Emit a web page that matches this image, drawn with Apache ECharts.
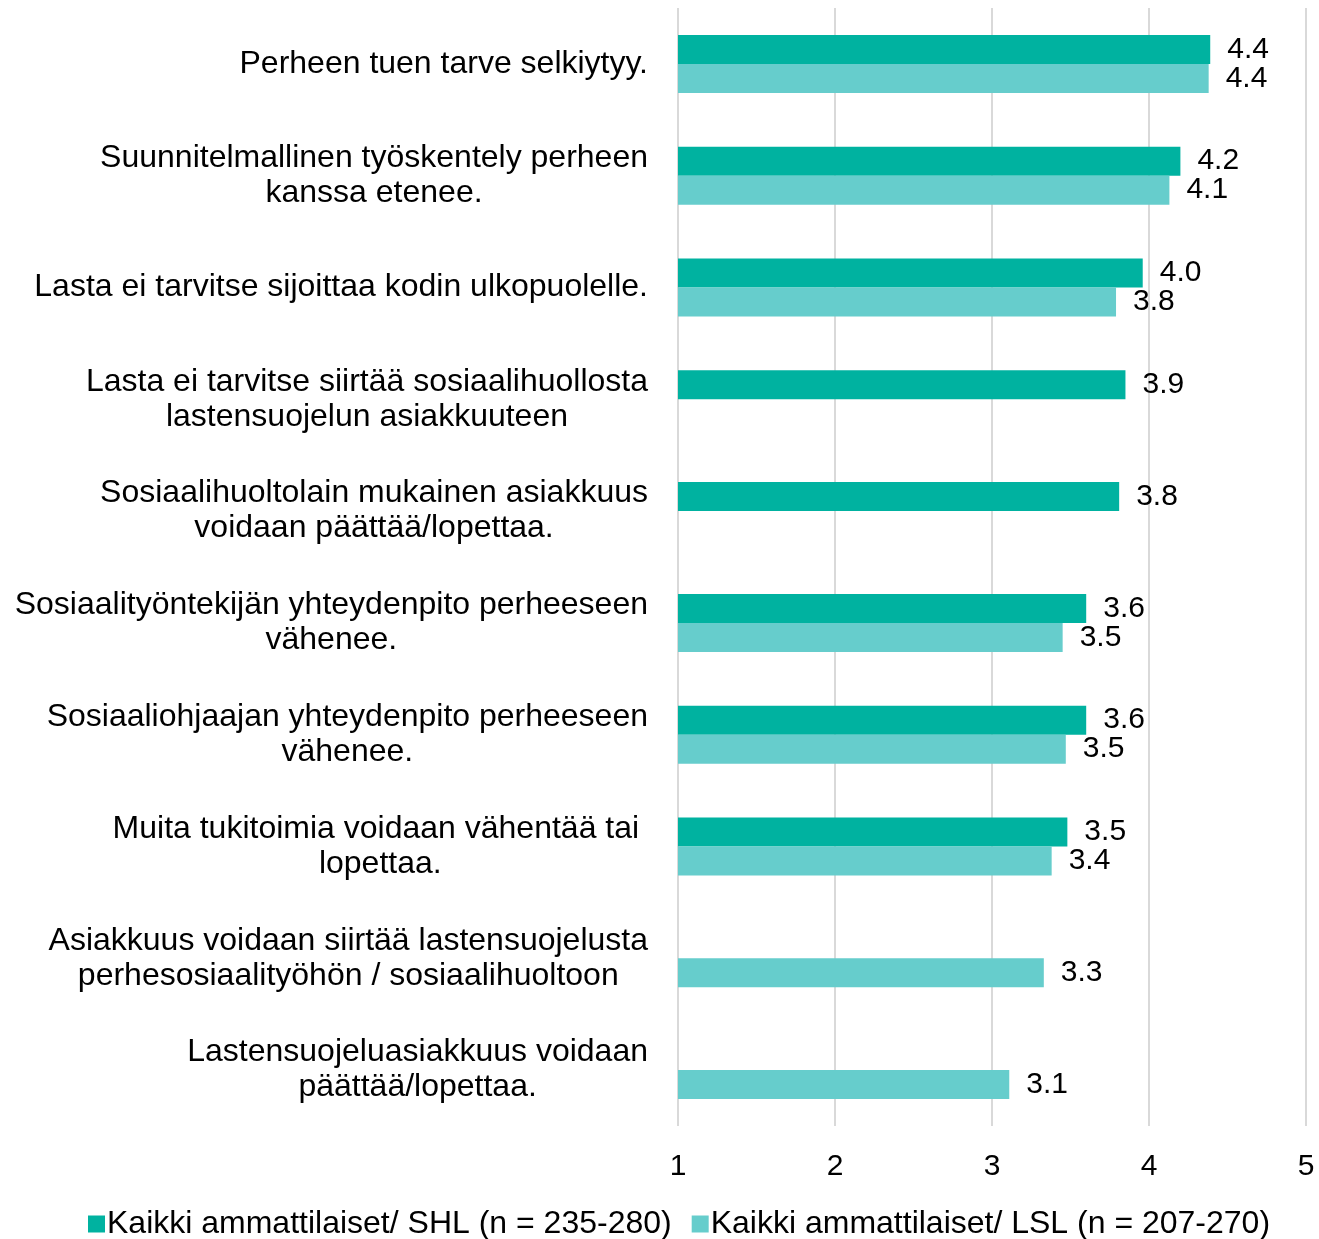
<!DOCTYPE html>
<html>
<head>
<meta charset="utf-8">
<script src="https://cdn.jsdelivr.net/npm/echarts@6/dist/echarts.min.js"></script>
<style>
  html, body { margin: 0; padding: 0; background: #fff; }
  #chart { width: 1319px; height: 1239px; }
</style>
</head>
<body>
<div id="chart"></div>
<script>
// kategoriat (ylhäältä alas)
var categories = [
  'Perheen tuen tarve selkiytyy.',
  'Suunnitelmallinen työskentely perheen\nkanssa etenee.',
  'Lasta ei tarvitse sijoittaa kodin ulkopuolelle.',
  'Lasta ei tarvitse siirtää sosiaalihuollosta\nlastensuojelun asiakkuuteen',
  'Sosiaalihuoltolain mukainen asiakkuus\nvoidaan päättää/lopettaa.',
  'Sosiaalityöntekijän yhteydenpito perheeseen\nvähenee.',
  'Sosiaaliohjaajan yhteydenpito perheeseen\nvähenee.',
  'Muita tukitoimia voidaan vähentää tai \nlopettaa.',
  'Asiakkuus voidaan siirtää lastensuojelusta\nperhesosiaalityöhön / sosiaalihuoltoon',
  'Lastensuojeluasiakkuus voidaan\npäättää/lopettaa.'
]
var shlName = 'Kaikki ammattilaiset/ SHL (n = 235-280)'
var lslName = 'Kaikki ammattilaiset/ LSL (n = 207-270)'
var shlValues = [4.39, 4.2, 3.96, 3.85, 3.81, 3.6, 3.6, 3.48, null, null]
var lslValues = [4.38, 4.13, 3.79, null, null, 3.45, 3.47, 3.38, 3.33, 3.11]
var xTicks = [1, 2, 3, 4, 5]

var chart = echarts.init(document.getElementById('chart'))

var labelStyle = {
  show: true,
  position: 'right',
  distance: 17,
  fontSize: 30,
  color: '#000',
  formatter: function (p) { return p.value == null ? '' : p.value.toFixed(1) }
}

var option = {
  backgroundColor: '#fff',
  textStyle: { fontFamily: 'Liberation Sans, Arial, sans-serif' },
  animation: false,
  grid: {
    left: 678,
    right: 13,
    top: 8,
    bottom: 113
  },
  legend: {
    top: 1208,
    left: 88,
    padding: 0,
    itemWidth: 17,
    itemHeight: 17,
    itemGap: 20,
    icon: 'rect',
    textStyle: { fontSize: 32, color: '#000', padding: [0, 0, 0, -3] },
    data: [shlName, lslName]
  },
  xAxis: {
    type: 'value',
    min: xTicks[0],
    max: xTicks[xTicks.length - 1],
    interval: 1,
    axisLine: { show: false },
    axisTick: { show: false },
    axisLabel: { fontSize: 30, color: '#000', margin: 26 },
    splitLine: { show: true, lineStyle: { color: '#d9d9d9', width: 2 } }
  },
  yAxis: {
    type: 'category',
    inverse: true,
    data: categories,
    axisLine: { show: false },
    axisTick: { show: false },
    axisLabel: {
      fontSize: 32,
      color: '#000',
      margin: 30,
      lineHeight: 35,
      align: 'right',
      // rivit keskitetään tekstilohkon sisällä
      formatter: function (v) {
        return v.split('\n').map(function (s) { return '{c|' + s + '}' }).join('\n')
      },
      rich: {
        c: { fontSize: 32, lineHeight: 35, color: '#000', align: 'center' }
      }
    }
  },
  series: [
    {
      name: shlName,
      type: 'bar',
      data: shlValues,
      barWidth: 29,
      barGap: '0%',
      itemStyle: { color: '#00B2A0' },
      label: labelStyle
    },
    {
      name: lslName,
      type: 'bar',
      data: lslValues,
      barWidth: 29,
      itemStyle: { color: '#66CDCC' },
      label: labelStyle
    }
  ]
}

chart.setOption(option)
</script>
</body>
</html>
